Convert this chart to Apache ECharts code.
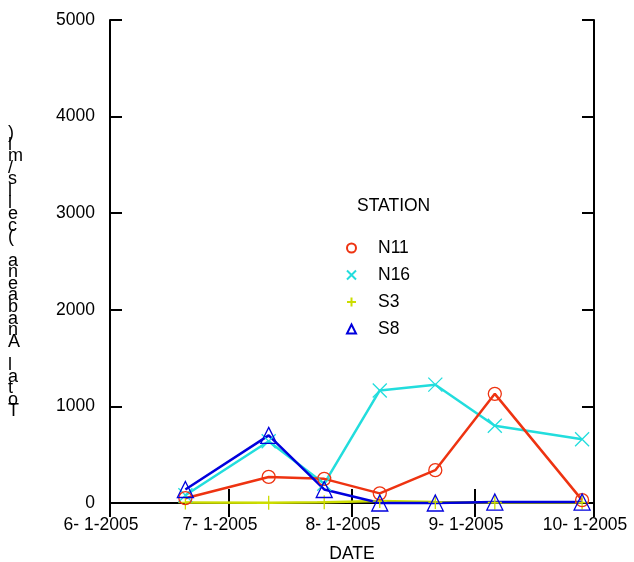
<!DOCTYPE html>
<html><head><meta charset="utf-8">
<script src="https://cdn.jsdelivr.net/npm/echarts@6/dist/echarts.min.js"></script>
<style>html,body{margin:0;padding:0;background:#fff}#c{width:634px;height:562px}</style>
</head><body><div id="c"></div>
<script>
const dates = ['2005-06-20','2005-07-11','2005-07-25','2005-08-08','2005-08-22','2005-09-06','2005-09-28'];
const n11 = [50, 270, 250, 100, 340, 1130, 30];
const n16 = [80, 640, 200, 1165, 1225, 800, 660];
const s3  = [5, 3, 8, 20, 10, 5, 5];
const s8  = [140, 700, 140, 0, 0, 10, 10];
const monthTicks = ['2005-06-01','2005-07-01','2005-08-01','2005-09-01','2005-10-01'];
const yTicks = [0, 1000, 2000, 3000, 4000, 5000];
const yTitle = 'Total Anabaena (cells/ml)';

const FONT = 'Liberation Sans, Arial, sans-serif';
const FS = 17.5;
const X_PATH = 'path://M0,0L10,10M10,0L0,10';
const PLUS_PATH = 'path://M5,0L5,10M0,5L10,5';
const DAY = 86400000;
const ts = d => Date.UTC(+d.slice(0,4), +d.slice(5,7)-1, +d.slice(8,10));
const pairs = arr => dates.map((d, i) => [ts(d), arr[i]]);

function fmtDate(v){
  const d = new Date(v);
  return (d.getUTCMonth()+1) + '- ' + d.getUTCDate() + '-' + d.getUTCFullYear();
}

const colors = {N11:'#ee3311', N16:'#22dddd', S3:'#ccdd00', S8:'#0000dd'};
const symbols = {N11:'circle', N16:X_PATH, S3:PLUS_PATH, S8:'triangle'};
const sizes = {N11:13, N16:14, S3:14, S8:16};

function mk(name, arr){
  return {
    name, type:'line', data: pairs(arr), clip:false,
    symbol: symbols[name], symbolSize: sizes[name], showAllSymbol:true,
    lineStyle:{color:colors[name], width:2.5},
    itemStyle:{color:'rgba(0,0,0,0)', borderColor:colors[name], borderWidth:1.3},
    emphasis:{disabled:true}, animation:false
  };
}

const chart = echarts.init(document.getElementById('c'), null, {renderer:'canvas'});
const tickVals = monthTicks.map(ts);
const xMin = tickVals[0], xMax = tickVals[tickVals.length-1];
chart.setOption({
  animation:false,
  backgroundColor:'#fff',
  textStyle:{fontFamily:FONT},
  grid:{left:110, right:40, top:20, bottom:59, containLabel:false, outerBoundsMode:'none'},
  title:{text:'STATION', left:352, top:192, textStyle:{fontFamily:FONT, fontSize:FS, fontWeight:'normal', color:'#000'}},
  legend:{
    orient:'vertical', left:341, top:234, itemGap:9, itemWidth:9, itemHeight:9,
    textStyle:{fontFamily:FONT, fontSize:FS, color:'#000', padding:[0,0,0,17]},
    data:[
      {name:'N11', icon:'circle', itemStyle:{color:'rgba(0,0,0,0)', borderColor:colors.N11, borderWidth:2}},
      {name:'N16', icon:X_PATH, itemStyle:{color:'rgba(0,0,0,0)', borderColor:colors.N16, borderWidth:2}},
      {name:'S3', icon:PLUS_PATH, itemStyle:{color:'rgba(0,0,0,0)', borderColor:colors.S3, borderWidth:2}},
      {name:'S8', icon:'triangle', itemStyle:{color:'rgba(0,0,0,0)', borderColor:colors.S8, borderWidth:2}}
    ]
  },
  xAxis:[{
    type:'value', min:xMin, max:xMax, interval:DAY*30.5,
    name:'DATE', nameLocation:'middle', nameGap:42,
    nameTextStyle:{fontFamily:FONT, fontSize:FS, color:'#000'},
    axisLine:{lineStyle:{color:'#000', width:2}},
    axisTick:{inside:true, length:14, customValues:tickVals, lineStyle:{color:'#000', width:2}},
    axisLabel:{customValues:tickVals, formatter:fmtDate, fontFamily:FONT, fontSize:FS, color:'#000', margin:13, padding:[0,18,0,0], showMinLabel:true, showMaxLabel:true, hideOverlap:false},
    splitLine:{show:false}
  },{
    type:'value', position:'top', min:xMin, max:xMax, interval:DAY*30.5,
    axisLine:{lineStyle:{color:'#000', width:2}},
    axisTick:{inside:true, length:14, customValues:tickVals, lineStyle:{color:'#000', width:2}},
    axisLabel:{show:false}, splitLine:{show:false}
  }],
  yAxis:[{
    type:'value', min:0, max:5000, interval:1000,
    axisLine:{show:true, lineStyle:{color:'#000', width:2}},
    axisTick:{show:true, inside:true, length:12, lineStyle:{color:'#000', width:2}},
    axisLabel:{fontFamily:FONT, fontSize:FS, color:'#000', margin:15, formatter: v => String(v)},
    splitLine:{show:false}
  },{
    type:'value', min:0, max:5000, interval:1000, position:'right',
    axisLine:{show:true, lineStyle:{color:'#000', width:2}},
    axisTick:{show:true, inside:true, length:12, lineStyle:{color:'#000', width:2}},
    axisLabel:{show:false}, splitLine:{show:false}
  }],
  graphic:[{
    type:'text', left:8, top:124, silent:true,
    style:{text:yTitle.split('').reverse().join('\n'), fontFamily:FONT, fontSize:18, lineHeight:11.6, fill:'#000', align:'center'}
  }],
  series:[mk('S3', s3), mk('N16', n16), mk('N11', n11), mk('S8', s8)]
});
</script></body></html>
